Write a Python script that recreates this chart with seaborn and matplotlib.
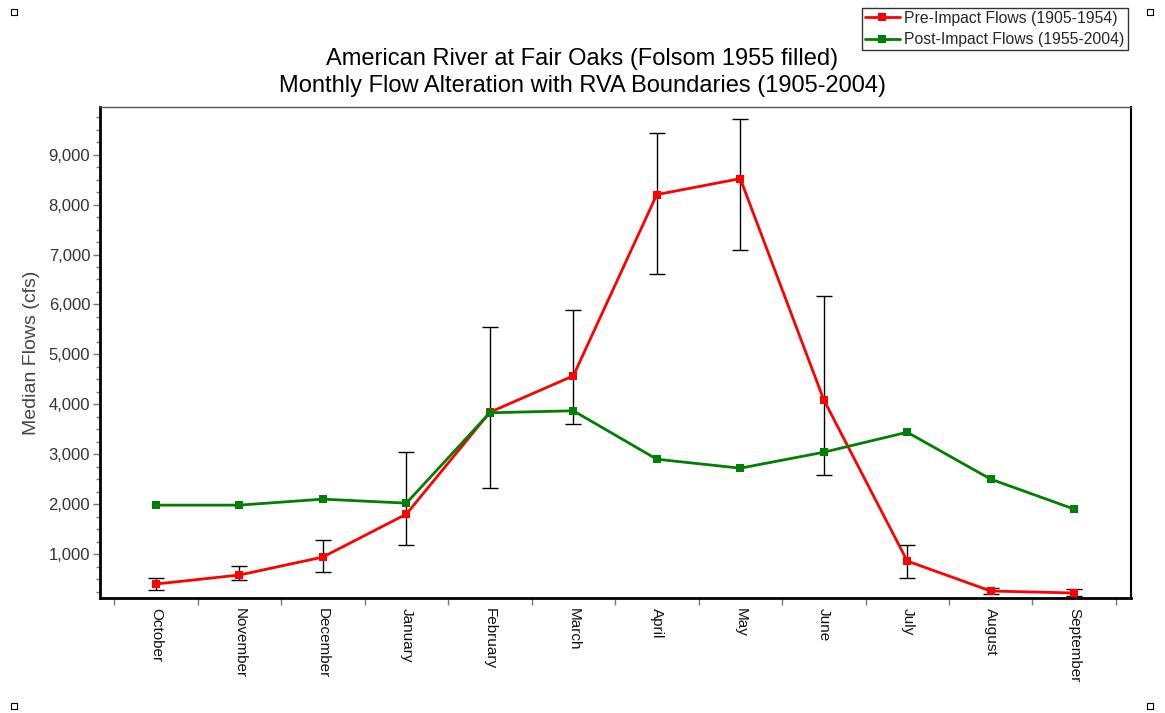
import numpy as np
import pandas as pd
import matplotlib
matplotlib.use("Agg")
import matplotlib.pyplot as plt
import matplotlib.ticker as mticker
import seaborn as sns

months = ["October", "November", "December", "January", "February", "March",
          "April", "May", "June", "July", "August", "September"]
pre_median = [400, 580, 940, 1800, 3840, 4570, 8200, 8520, 4090, 860, 260, 220]
pre_low = [280, 480, 640, 1180, 2320, 3600, 6610, 7090, 2580, 520, 200, 160]
pre_high = [520, 760, 1290, 3040, 5550, 5880, 9440, 9720, 6160, 1180, 320, 300]
post_median = [1980, 1980, 2100, 2020, 3830, 3870, 2900, 2720, 3040, 3440, 2500, 1900]

df = pd.DataFrame({
    "idx": np.arange(len(months)),
    "pre": pre_median,
    "post": post_median,
})

sns.set_style("white")
plt.rcParams["font.family"] = ["Liberation Sans", "DejaVu Sans"]

fig = plt.figure(figsize=(11.65, 7.13), dpi=100)
ax = fig.add_axes([0.0858, 0.1613, 0.885, 0.689])

# RVA boundaries around the pre-impact medians
yerr = [np.array(pre_median) - np.array(pre_low), np.array(pre_high) - np.array(pre_median)]
ax.errorbar(df["idx"], df["pre"], yerr=yerr, fmt="none", ecolor="black",
            elinewidth=1, capsize=6, capthick=1, zorder=2)

sns.lineplot(data=df, x="idx", y="pre", color="#ff0000", marker="s", markersize=6,
             markeredgewidth=0, linewidth=2, label="Pre-Impact Flows (1905-1954)", ax=ax, zorder=3)
sns.lineplot(data=df, x="idx", y="post", color="#008000", marker="s", markersize=6,
             markeredgewidth=0, linewidth=2, label="Post-Impact Flows (1955-2004)", ax=ax, zorder=3)

ax.set_xlim(-0.67, 11.68)
ax.set_ylim(120, 9960)

ax.set_xticks(np.arange(len(months)))
ax.set_xticklabels(months, rotation=-90, fontsize=11, color="#111111", va="top")
ax.set_xticks(np.arange(-0.5, 12, 1), minor=True)
ax.tick_params(axis="x", which="major", length=0, pad=7)
ax.tick_params(axis="x", which="minor", length=5, width=1, color="#777777", direction="out", bottom=True)

ax.yaxis.set_major_locator(mticker.MultipleLocator(1000))
ax.yaxis.set_minor_locator(mticker.MultipleLocator(250))
ax.yaxis.set_major_formatter(mticker.StrMethodFormatter("{x:,.0f}"))
ax.tick_params(axis="y", which="major", length=5, width=1, color="#777777", labelsize=12,
               labelcolor="#333333", left=True, direction="out", pad=2)
ax.tick_params(axis="y", which="minor", length=3, width=1, color="#777777", left=True, direction="out")

ax.set_xlabel("")
ax.set_ylabel("Median Flows (cfs)", fontsize=14, color="#444444", labelpad=6)

for side in ["left", "bottom"]:
    ax.spines[side].set_linewidth(2)
    ax.spines[side].set_color("black")
ax.spines["top"].set_linewidth(1)
ax.spines["top"].set_color("#555555")
ax.spines["right"].set_linewidth(1.5)
ax.spines["right"].set_color("black")

fig.suptitle("American River at Fair Oaks (Folsom 1955 filled)\n"
             "Monthly Flow Alteration with RVA Boundaries (1905-2004)",
             fontsize=17, y=0.933, linespacing=1.3, color="black")

leg = ax.legend(loc="upper right", bbox_to_anchor=(0.968, 0.989), bbox_transform=fig.transFigure,
                frameon=True, fancybox=False, fontsize=11.3, handlelength=2.2, borderpad=0.2,
                labelspacing=0.4, handletextpad=0.3, borderaxespad=0)
leg.get_frame().set_edgecolor("black")
leg.get_frame().set_linewidth(1)

# selection handles in the corners
for fx, fy in [(14 / 1165, 1 - 12 / 713), (1150 / 1165, 1 - 12 / 713),
               (14 / 1165, 1 - 706 / 713), (1150 / 1165, 1 - 706 / 713)]:
    fig.add_artist(plt.Line2D([fx], [fy], marker="s", markersize=4, markerfacecolor="white",
                              markeredgecolor="black", markeredgewidth=0.8, linestyle="none",
                              transform=fig.transFigure))

fig.savefig("out.png", dpi=100)
